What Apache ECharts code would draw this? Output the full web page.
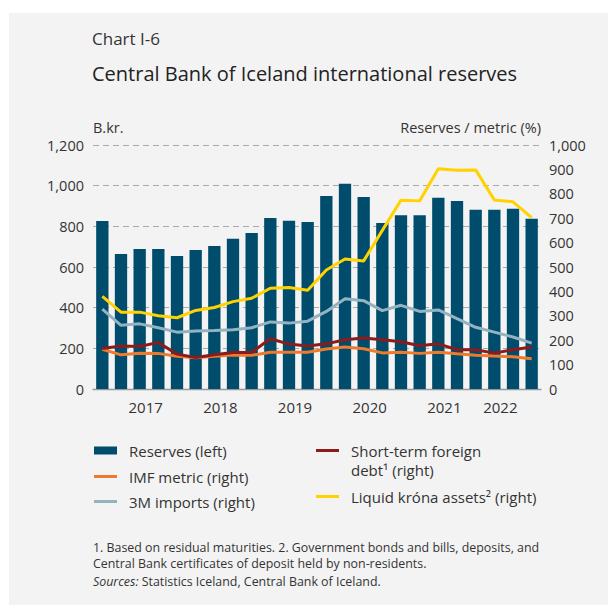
<!DOCTYPE html>
<html>
<head>
<meta charset="utf-8">
<script src="https://cdn.jsdelivr.net/npm/echarts@6/dist/echarts.min.js"></script>
<style>
html,body{margin:0;padding:0;background:#ffffff;}
#chart{width:608px;height:605px;}
</style>
</head>
<body>
<div id="chart"></div>
<script>
const categories = ['2016Q4','2017Q1','2017Q2','2017Q3','2017Q4','2018Q1','2018Q2','2018Q3','2018Q4','2019Q1','2019Q2','2019Q3','2019Q4','2020Q1','2020Q2','2020Q3','2020Q4','2021Q1','2021Q2','2021Q3','2021Q4','2022Q1','2022Q2','2022Q3'];
const yearLabels = {2:'2017', 6:'2018', 10:'2019', 14:'2020', 18:'2021', 21:'2022'};
const reserves = [826, 664, 688, 688, 654, 683, 703, 739, 767, 841, 827, 821, 949, 1009, 944, 816, 855, 855, 940, 925, 881, 881, 886, 837];
const imfMetric = [163, 140, 147, 146, 134, 128, 134, 139, 138, 151, 151, 151, 164, 172, 165, 148, 151, 146, 151, 144, 138, 135, 132, 124];
const imports3M = [327, 261, 267, 251, 233, 238, 240, 243, 251, 275, 270, 278, 318, 370, 362, 321, 343, 318, 324, 288, 253, 233, 213, 188];
const shortDebt = [166, 176, 174, 191, 143, 129, 140, 150, 150, 206, 184, 176, 185, 202, 209, 202, 194, 177, 185, 161, 161, 147, 161, 172];
const liquidKrona = [380, 315, 315, 300, 292, 322, 334, 358, 372, 413, 416, 405, 488, 533, 525, 650, 774, 771, 903, 897, 898, 775, 767, 702];
const leftTicks = {min: 0, max: 1200, interval: 200};
const rightTicks = {min: 0, max: 1000, interval: 100};

const FONT = 'Open Sans';
const TXT = '#333333';
const names = {
  res: 'Reserves (left)',
  imf: 'IMF metric (right)',
  imp: '3M imports (right)',
  debt: 'Short-term foreign debt\u00b9 (right)',
  liq: 'Liquid kr\u00f3na assets\u00b2 (right)'
};
const colors = {res:'#004c6c', imf:'#f07a2c', imp:'#95b2c1', debt:'#8c1b1b', liq:'#ffd200'};

function legendOf(name, left, top, iconH) {
  return {
    data: [{name: name, icon: 'rect'}],
    left: left, top: top, padding: 0,
    itemWidth: 23, itemHeight: iconH,
    selectedMode: false,
    formatter: function (n) { return n === names.debt ? '\nShort-term foreign\ndebt\u00b9 (right)' : n; },
    textStyle: {fontFamily: FONT, fontSize: 15, color: TXT, lineHeight: 19, padding: [0, 0, 0, 7]}
  };
}

const chart = echarts.init(document.getElementById('chart'), null, {renderer: 'svg'});
chart.setOption({
  backgroundColor: '#ffffff',
  animation: false,
  graphic: {elements: [
    {type: 'rect', z: -100, silent: true, shape: {x: 9, y: 13, width: 599, height: 592}, style: {fill: '#f3f3f3'}},
    {type: 'text', left: 93, top: 539, silent: true, style: {text: '1. Based on residual maturities. 2. Government bonds and bills, deposits, and\nCentral Bank certificates of deposit held by non-residents.', font: '12.4px "Open Sans"', fill: TXT, lineHeight: 16}},
    {type: 'text', left: 93, top: 573, silent: true, style: {text: '{i|Sources:} Statistics Iceland, Central Bank of Iceland.', font: '12.4px "Open Sans"', fill: TXT, lineHeight: 16, rich: {i: {fontStyle: 'italic', fontFamily: FONT, fontSize: 12.4, fill: TXT}}}}
  ]},
  title: [
    {text: 'Chart I-6', left: 92, top: 30, padding: 0, textStyle: {fontFamily: FONT, fontSize: 17, fontWeight: 'normal', color: TXT}},
    {text: 'Central Bank of Iceland international reserves', left: 92, top: 63, padding: 0, textStyle: {fontFamily: FONT, fontSize: 20, fontWeight: 'normal', color: '#222'}}
  ],
  legend: [
    legendOf(names.res, 94, 441, 8),
    legendOf(names.imf, 94, 467, 3),
    legendOf(names.imp, 94, 492, 3),
    legendOf(names.debt, 316, 422, 3),
    legendOf(names.liq, 316, 487, 3)
  ],
  grid: {left: 93, right: 67, top: 145, bottom: 216, containLabel: false},
  xAxis: {
    type: 'category', data: categories, boundaryGap: true,
    axisLine: {lineStyle: {color: '#999', width: 1.3}},
    axisTick: {interval: 3, length: 6, lineStyle: {color: '#999', width: 1.3}},
    axisLabel: {
      interval: 0, margin: 10,
      formatter: function (v, i) { return yearLabels[i] || ''; },
      fontFamily: FONT, fontSize: 15, color: TXT, padding: [0, 0, 0, 12]
    }
  },
  yAxis: [
    {type: 'value', min: leftTicks.min, max: leftTicks.max, interval: leftTicks.interval,
     name: 'B.kr.', nameLocation: 'end', nameGap: 10,
     nameTextStyle: {fontFamily: FONT, fontSize: 14.5, color: TXT, align: 'left'},
     axisLine: {show: false}, axisTick: {show: false},
     axisLabel: {margin: 9, fontFamily: FONT, fontSize: 14.5, color: TXT, formatter: function (v) { return v.toLocaleString('en-US'); }},
     splitLine: {show: true, lineStyle: {color: '#aaaaaa', type: [6, 4], width: 1.2}}},
    {type: 'value', min: rightTicks.min, max: rightTicks.max, interval: rightTicks.interval,
     name: 'Reserves / metric (%)', nameLocation: 'end', nameGap: 10,
     nameTextStyle: {fontFamily: FONT, fontSize: 14.5, color: TXT, align: 'right'},
     axisLine: {show: false}, axisTick: {show: false}, splitLine: {show: false},
     axisLabel: {margin: 8, fontFamily: FONT, fontSize: 14.5, color: TXT, formatter: function (v) { return v.toLocaleString('en-US'); }}}
  ],
  series: [
    {name: names.res, type: 'bar', yAxisIndex: 0, data: reserves, barCategoryGap: '34%', itemStyle: {color: colors.res}},
    {name: names.imf, type: 'line', yAxisIndex: 1, data: imfMetric, symbol: 'none', itemStyle: {color: colors.imf}, lineStyle: {color: colors.imf, width: 3}},
    {name: names.imp, type: 'line', yAxisIndex: 1, data: imports3M, symbol: 'none', itemStyle: {color: colors.imp}, lineStyle: {color: colors.imp, width: 3}},
    {name: names.debt, type: 'line', yAxisIndex: 1, data: shortDebt, symbol: 'none', itemStyle: {color: colors.debt}, lineStyle: {color: colors.debt, width: 3}},
    {name: names.liq, type: 'line', yAxisIndex: 1, data: liquidKrona, symbol: 'none', itemStyle: {color: colors.liq}, lineStyle: {color: colors.liq, width: 3}}
  ]
});
</script>
</body>
</html>
